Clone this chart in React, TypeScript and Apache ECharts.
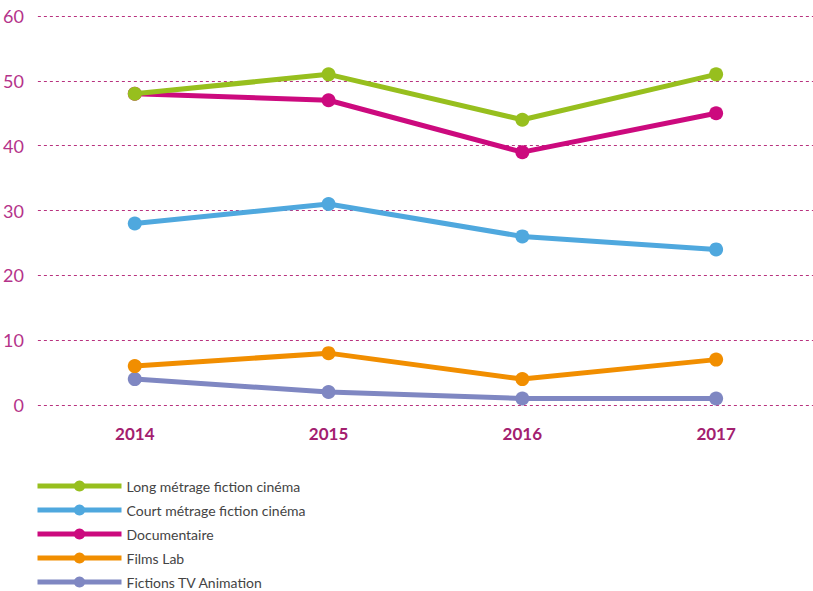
import React, { useEffect, useRef } from "react";
import * as echarts from "echarts";

const years = ["2014", "2015", "2016", "2017"];
const seriesNames = [
  "Long métrage fiction cinéma",
  "Court métrage fiction cinéma",
  "Documentaire",
  "Films Lab",
  "Fictions TV Animation",
];
const longMetrage = [48, 51, 44, 51];
const courtMetrage = [28, 31, 26, 24];
const documentaire = [48, 47, 39, 45];
const filmsLab = [6, 8, 4, 7];
const fictionsTV = [4, 2, 1, 1];
const colors = ["#97bf1e", "#4fa8de", "#cc0a7e", "#f18e00", "#7f87c2"];

export default function App() {
  const ref = useRef<HTMLDivElement>(null);
  useEffect(() => {
    const chart = echarts.init(ref.current!, undefined, { renderer: "svg" });
    const dataByName = [longMetrage, courtMetrage, documentaire, filmsLab, fictionsTV];
    chart.setOption({
      animation: false,
      textStyle: { fontFamily: "Lato" },
      grid: { left: 36, right: 0, top: 16, bottom: 186 },
      legend: {
        orient: "vertical",
        left: 30,
        top: 474,
        height: 120,
        padding: [5, 5, 0, 5],
        itemWidth: 84,
        itemHeight: 14,
        itemGap: 10,
        data: seriesNames,
        lineStyle: { width: 5 },
        textStyle: { color: "#444", fontSize: 14, lineHeight: 14, fontFamily: "Lato" },
      },
      xAxis: {
        type: "category",
        data: years,
        axisLine: { show: false },
        axisTick: { show: false },
        axisLabel: { color: "#a3206f", fontWeight: "bold", fontSize: 17, margin: 20 },
      },
      yAxis: {
        type: "value",
        min: 0,
        max: 60,
        interval: 10,
        axisLine: { show: false },
        axisTick: { show: false },
        axisLabel: { color: "#b5338a", fontSize: 18, margin: 14 },
        splitLine: { lineStyle: { color: "#b8327f", type: [3, 3], width: 1 } },
      },
      series: seriesNames.map((name, i) => ({
        name,
        type: "line",
        data: dataByName[i],
        color: colors[i],
        symbol: "circle",
        symbolSize: 14,
        lineStyle: { width: 5 },
        z: 10 - i,
      })),
    });
    return () => chart.dispose();
  }, []);
  return (
    <div
      ref={ref}
      style={{ position: "absolute", left: 0, top: 0, width: 813, height: 591 }}
    />
  );
}
